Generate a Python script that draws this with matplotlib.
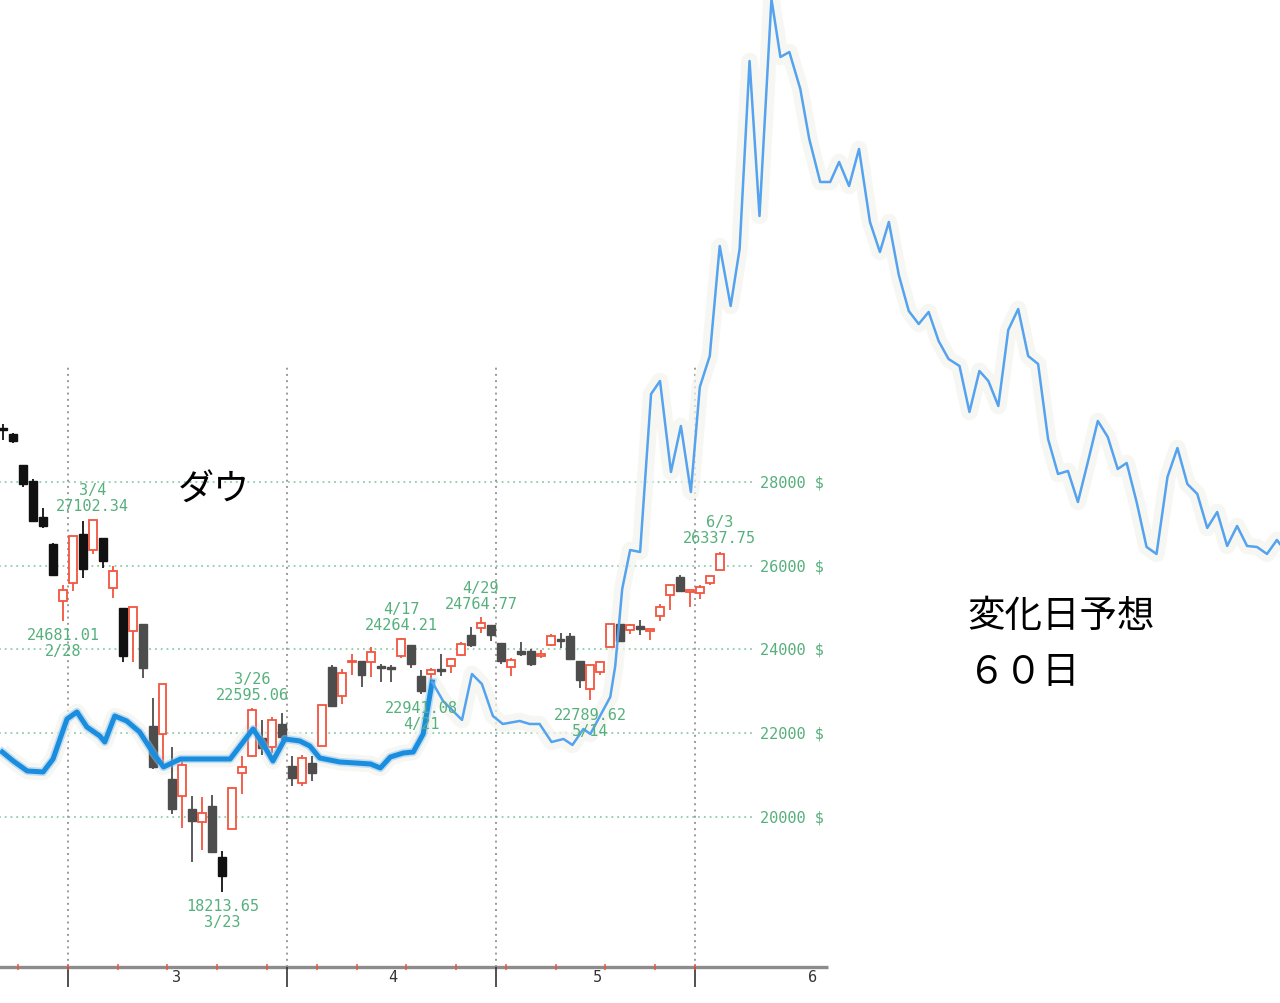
import numpy as np
import matplotlib
matplotlib.use('Agg')
import matplotlib.pyplot as plt

# daily candles, Dow, 2/20 .. 6/3 (trading days only)
dates = ['2/20', '2/21', '2/24', '2/25', '2/26', '2/27', '2/28',
         '3/2', '3/3', '3/4', '3/5', '3/6', '3/9', '3/10', '3/11', '3/12', '3/13',
         '3/16', '3/17', '3/18', '3/19', '3/20', '3/23', '3/24', '3/25', '3/26', '3/27',
         '3/30', '3/31', '4/1', '4/2', '4/3', '4/6', '4/7', '4/8', '4/9',
         '4/13', '4/14', '4/15', '4/16', '4/17', '4/20', '4/21', '4/22', '4/23', '4/24',
         '4/27', '4/28', '4/29', '4/30', '5/1', '5/4', '5/5', '5/6', '5/7', '5/8',
         '5/11', '5/12', '5/13', '5/14', '5/15', '5/18', '5/19', '5/20', '5/21', '5/22',
         '5/26', '5/27', '5/28', '5/29', '6/1', '6/2', '6/3']
opens = [29300, 29150, 28400, 28030, 27170, 26510, 25165,
         25590, 26760, 26383, 26670, 25457, 24992, 24453, 24604, 22184, 21974,
         20917, 20500, 20190, 19870, 20260, 19040, 19722, 21050, 21468, 21898,
         21678, 22210, 21228, 20819, 21285, 21693, 23580, 22880, 23690,
         23720, 23700, 23600, 23590, 23840, 24100, 23370, 23410, 23530, 23610,
         23870, 24350, 24520, 24590, 24150, 23580, 23960, 23960, 23850, 24110,
         24240, 24320, 23720, 23060, 23460, 24060, 24600, 24466, 24560, 24440,
         24800, 25300, 25730, 25370, 25350, 25590, 25900]
highs = [29380, 29170, 28400, 28060, 27380, 26540, 25530,
         26710, 27080, 27102, 26670, 25990, 24992, 25020, 24604, 22837, 23186,
         21670, 21409, 20500, 20480, 20532, 19177, 20705, 21460, 22595, 22327,
         22378, 22480, 21455, 21477, 21447, 22680, 23640, 23540, 23900,
         23720, 24060, 23650, 23620, 24264, 24119, 23516, 23560, 23890, 23800,
         24175, 24530, 24765, 24590, 24150, 23802, 24180, 24016, 23987, 24358,
         24382, 24400, 23720, 23626, 23737, 24602, 24620, 24604, 24700, 24486,
         25086, 25548, 25767, 25409, 25543, 25761, 26338]
lows = [29000, 28930, 27890, 27060, 26900, 25750, 24681,
        25390, 25710, 26290, 25940, 25230, 23706, 23690, 23328, 21154, 21285,
        20066, 19735, 18930, 19200, 19160, 18213, 19722, 20540, 21427, 21469,
        21522, 21828, 20735, 20736, 20863, 21693, 22630, 22700, 23400,
        23100, 23335, 23220, 23220, 23800, 23563, 22941, 23300, 23367, 23440,
        23847, 24060, 24385, 24197, 23645, 23370, 23853, 23617, 23798, 24095,
        24047, 23760, 23080, 22790, 23395, 24054, 24202, 24376, 24342, 24236,
        24692, 24938, 25389, 25019, 25195, 25536, 25892]
closes = [29240, 28990, 27960, 27080, 26960, 25770, 25409,
          26703, 25917, 27091, 26121, 25864, 23851, 25018, 23553, 21200, 23185,
          20189, 21237, 19900, 20100, 19174, 18592, 20704, 21200, 22552, 21637,
          22327, 21917, 20943, 21413, 21053, 22680, 22654, 23434, 23720,
          23390, 23950, 23550, 23540, 24242, 23650, 23019, 23510, 23490, 23775,
          24134, 24101, 24634, 24346, 23724, 23749, 23883, 23665, 23890, 24331,
          24210, 23765, 23270, 23625, 23700, 24597, 24207, 24576, 24490, 24465,
          25010, 25540, 25401, 25400, 25490, 25750, 26280]

# high / low markers
mark_dates = ['2/28', '3/4', '3/23', '3/26', '4/17', '4/21', '4/29', '5/14', '6/3']
mark_text = ['24681.01', '27102.34', '18213.65', '22595.06', '24264.21',
             '22941.08', '24764.77', '22789.62', '26337.75']
mark_side = ['low', 'high', 'low', 'high', 'high', 'low', 'high', 'low', 'high']

# 変化日予想 line (trading day number from 2/28, value)
blue_x = [-6.1, -5.0, -3.6, -2.0, -1.0, 0.4, 1.4, 2.4, 3.7, 4.2, 5.2, 6.4, 7.7, 9.0,
          10.1, 11.8, 16.8, 17.8, 19.1, 20.1, 21.1, 22.3, 23.8, 24.8, 25.8, 27.8,
          30.9, 31.9, 32.9, 34.2, 35.2, 36.2, 37.1,
          38.2, 40.1, 41.1, 42.1, 43.2, 44.2, 45.9, 46.9, 47.9, 49.1, 50.3, 51.2,
          52.3, 53.0, 55.0, 55.5, 56.2, 57.0, 58.0, 59.1, 60.0, 61.1, 62.1, 63.1,
          64.0, 65.0, 66.0, 67.1, 68.0, 69.0, 70.0, 71.2, 72.1, 73.0, 74.1, 75.0,
          76.1, 77.1, 78.0, 79.0, 80.0, 81.1, 82.1, 83.0, 84.0, 85.0, 86.0, 87.0,
          88.0, 89.0, 90.1, 91.1, 92.1, 93.0, 94.0, 95.0, 96.0, 97.0, 98.0, 99.0,
          100.0, 101.0, 102.0, 103.0, 104.0, 105.0, 106.0, 106.9, 107.9, 108.9,
          109.9, 111.0, 112.0, 113.0, 114.0, 115.0, 116.0, 117.0, 118.0, 119.0,
          120.0, 121.0, 122.0, 122.3]
blue_y = [21552, 21337, 21099, 21075, 21385, 22340, 22508, 22149, 21935, 21791, 22412,
          22293, 22030, 21552, 21194, 21385, 21385, 21696, 22102, 21743, 21337, 21863,
          21815, 21696, 21409, 21314, 21266, 21170, 21433, 21528, 21552, 21982, 23224,
          22770, 22317, 23415, 23176, 22412, 22221, 22293, 22221, 22221, 21791, 21863,
          21720, 22102, 21982, 22866, 23606, 25445, 26376, 26328, 30101, 30412, 28239,
          29337, 27761, 30269, 31009, 33636, 32203, 33564, 38053, 34352, 39534, 38149,
          38268, 37385, 36191, 35164, 35164, 35642, 35068, 35952, 34209, 33492, 34209,
          32943, 32083, 31773, 32060, 31367, 30937, 30770, 29672, 30651, 30412, 29815,
          31630, 32131, 31009, 30818, 29027, 28191, 28263, 27522, 28478, 29457, 29075,
          28310, 28454, 27522, 26448, 26281, 28119, 28812, 27952, 27713, 26902, 27284,
          26472, 26949, 26472, 26448, 26281, 26615, 26520]
n_thick = 33   # thick part of the line (up to 4/22)

price_levels = [20000, 22000, 24000, 26000, 28000]
month_lines = [0.5, 22.5, 43.5, 63.5]
week_ticks = [-4.5, 0.5, 5.5, 10.5, 15.5, 20.5, 25.5, 29.5, 34.5, 39.5, 44.5,
              49.5, 54.5, 59.5, 63.5]
month_names = ['3', '4', '5', '6']
month_pos = [11.4, 33.1, 53.7, 75.3]

GREEN = '#55b07b'
RED = '#f2553f'
MONO = 'DejaVu Sans Mono'
JP = ['Noto Sans CJK JP', 'DejaVu Sans']

x = np.arange(len(dates)) - 6
o = np.array(opens); h = np.array(highs); l = np.array(lows); c = np.array(closes)
up = c >= o

fig = plt.figure(figsize=(12.8, 10.04), dpi=100)
ax = fig.add_axes([0, 0, 1, 1])
ax.set_xlim(-6.332, 122.31)
ax.set_ylim(15558, 39534)
ax.axis('off')

axis_y = 16418
top_y = 30770

# grid
ax.hlines(price_levels, -6.4, 69.5, colors='#8fceaa', linestyles=(0, (1, 2.2)), lw=1.3, zorder=1)
ax.vlines(month_lines, axis_y, top_y, colors='#9a9a9a', linestyles=(0, (1, 2.2)), lw=1.4, zorder=1)
for v in price_levels:
    ax.text(70.05, v, f'{v} $', color=GREEN, fontsize=11, family=MONO, va='center', ha='left')

# bottom axis
ax.hlines(axis_y, -6.4, 76.9, colors='#8c8c8c', lw=2.4, zorder=3)
ax.vlines(month_lines, 15940, axis_y, colors='#333333', lw=1.2, zorder=3)
ax.vlines(week_ticks, 16340, 16480, colors=RED, lw=1.1, zorder=4)
for m, p in zip(month_names, month_pos):
    ax.text(p, 16180, m, color='#333333', fontsize=11, family=MONO, ha='center', va='center')

# faint shadow band around forecast line
ax.plot(blue_x, blue_y, color='#f3f5ef', lw=12, alpha=0.7, solid_capstyle='butt', zorder=1)

# candles
down_col = ['#111111' if (i <= 6 or i == 16) else '#4d4d4d' for i in x]
for i in range(len(x)):
    col = RED if up[i] else down_col[i]
    ax.vlines(x[i], l[i], h[i], colors=col, lw=1.3, zorder=2)
    bot = min(o[i], c[i])
    ht = max(abs(c[i] - o[i]), 45)
    if up[i]:
        ax.bar(x[i], ht, bottom=bot, width=0.8, facecolor='white', edgecolor=col, lw=1.3, zorder=3)
    else:
        ax.bar(x[i], ht, bottom=bot, width=0.8, facecolor=col, edgecolor=col, lw=1.0, zorder=3)

# markers
for d, t, s in zip(mark_dates, mark_text, mark_side):
    i = dates.index(d)
    xi = x[i]
    if s == 'high':
        ax.annotate(t, (xi, h[i]), xytext=(0, 10), textcoords='offset points',
                    ha='center', va='center', color=GREEN, fontsize=11, family=MONO, zorder=6)
        ax.annotate(d, (xi, h[i]), xytext=(0, 21.5), textcoords='offset points',
                    ha='center', va='center', color=GREEN, fontsize=11, family=MONO, zorder=6)
    else:
        ax.annotate(t, (xi, l[i]), xytext=(0, -10), textcoords='offset points',
                    ha='center', va='center', color=GREEN, fontsize=11, family=MONO, zorder=6)
        ax.annotate(d, (xi, l[i]), xytext=(0, -21.5), textcoords='offset points',
                    ha='center', va='center', color=GREEN, fontsize=11, family=MONO, zorder=6)

# forecast line
ax.plot(blue_x[:n_thick], blue_y[:n_thick], color='#8cc4f0', lw=6, alpha=0.5,
        solid_joinstyle='round', zorder=4)
ax.plot(blue_x[:n_thick], blue_y[:n_thick], color='#1a8ddf', lw=3.6,
        solid_joinstyle='round', zorder=5)
ax.plot(blue_x[n_thick - 1:], blue_y[n_thick - 1:], color='#55a2ee', lw=1.8,
        solid_joinstyle='round', zorder=5)

# titles
ax.text(15.2, 27809, 'ダウ', fontsize=26, family=JP, color='black', ha='center', va='center')
ax.text(90.9, 24800, '変化日予想', fontsize=27, family=JP, color='black', ha='left', va='center')
ax.text(90.9, 23463, '６０日', fontsize=27, family=JP, color='black', ha='left', va='center')

fig.savefig('out.png', dpi=100, facecolor='white')
